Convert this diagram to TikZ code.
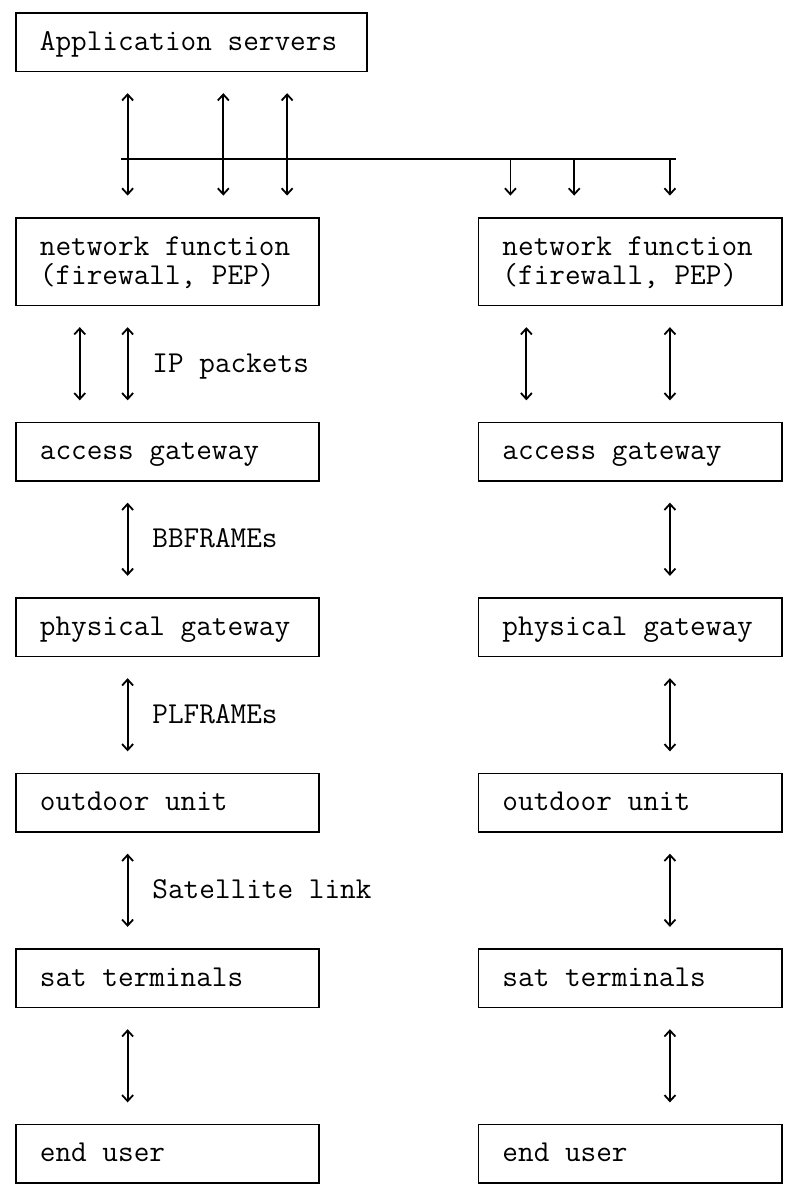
\documentclass[tikz,border=0pt]{standalone}
\usetikzlibrary{arrows.meta}
\tikzstyle{asciibox} = [draw, line width=1.8pt, inner xsep=23.925pt, inner ysep=0pt, text width=255.2pt, minimum height=58.5pt, text height=18pt, text depth=2pt, execute at begin node={\spaceskip=0pt\xspaceskip=0pt\relax}]
\tikzstyle{widebox} = [asciibox, text width=303.05pt]
\tikzstyle{tallbox} = [asciibox, minimum height=87.75pt, text depth=31.25pt]
\tikzstyle{flowlabel} = [anchor=west, inner xsep=23.925pt, inner ysep=0pt, text height=18pt, text depth=2pt]
\tikzstyle{link} = [line width=1.8pt, shorten <=20.75pt, shorten >=21.25pt]

\begin{document}
\begin{tikzpicture}[x=15.95pt, y=-29.25pt, >={Straight Barb[length=6pt,width=11pt]},
    font=\ttfamily\fontsize{30.38pt}{29.25pt}\selectfont]
  \useasboundingbox (0,0) rectangle (49.34,40.75);
  % columns of the arrows
  \foreach \c in {4,7,13,17,31,32,35,41}
    \coordinate (col\c) at (\c+1,0);

  \node[widebox] (apps) at (12,1.444) {Application servers};
  \coordinate (busW) at (7.6,5.444);
  \coordinate (busE) at (42.4,5.444);

  % left chain
  \node[tallbox] (nfL) at (10.5,8.944) {network function\\(firewall, PEP)};
  \node[asciibox] (agL) at (10.5,15.444) {access gateway};
  \node[asciibox] (pgL) at (10.5,21.444) {physical gateway};
  \node[asciibox] (ouL) at (10.5,27.444) {outdoor unit};
  \node[asciibox] (stL) at (10.5,33.444) {sat terminals};
  \node[asciibox] (euL) at (10.5,39.444) {end user};

  % right chain
  \node[tallbox] (nfR) at (39.5,8.944) {network function\\(firewall, PEP)};
  \node[asciibox] (agR) at (39.5,15.444) {access gateway};
  \node[asciibox] (pgR) at (39.5,21.444) {physical gateway};
  \node[asciibox] (ouR) at (39.5,27.444) {outdoor unit};
  \node[asciibox] (stR) at (39.5,33.444) {sat terminals};
  \node[asciibox] (euR) at (39.5,39.444) {end user};

  \draw[line width=1.8pt] (busW) -- (busE);
  \foreach \c in {7,13,17} {
    \draw[link, <-, shorten >=0pt] (col\c |- apps.south) -- (col\c |- busW);
    \draw[link, ->, shorten <=0pt] (col\c |- busW) -- (col\c |- nfL.north);
  }
  \foreach \c in {31,35,41}
    \draw[link, ->, shorten <=0pt] (col\c |- busW) -- (col\c |- nfR.north);

  \draw[link, <->] (col4 |- nfL.south) -- (col4 |- agL.north);
  \draw[link, <->] (col7 |- nfL.south) -- node[flowlabel] {IP packets} (col7 |- agL.north);
  \draw[link, <->] (col7 |- agL.south) -- node[flowlabel] {BBFRAMEs} (col7 |- pgL.north);
  \draw[link, <->] (col7 |- pgL.south) -- node[flowlabel] {PLFRAMEs} (col7 |- ouL.north);
  \draw[link, <->] (col7 |- ouL.south) -- node[flowlabel] {Satellite link} (col7 |- stL.north);
  \draw[link, <->] (col7 |- stL.south) -- (col7 |- euL.north);

  \draw[link, <->] (col32 |- nfR.south) -- (col32 |- agR.north);
  \draw[link, <->] (col41 |- nfR.south) -- (col41 |- agR.north);
  \draw[link, <->] (col41 |- agR.south) -- (col41 |- pgR.north);
  \draw[link, <->] (col41 |- pgR.south) -- (col41 |- ouR.north);
  \draw[link, <->] (col41 |- ouR.south) -- (col41 |- stR.north);
  \draw[link, <->] (col41 |- stR.south) -- (col41 |- euR.north);
\end{tikzpicture}
\end{document}
